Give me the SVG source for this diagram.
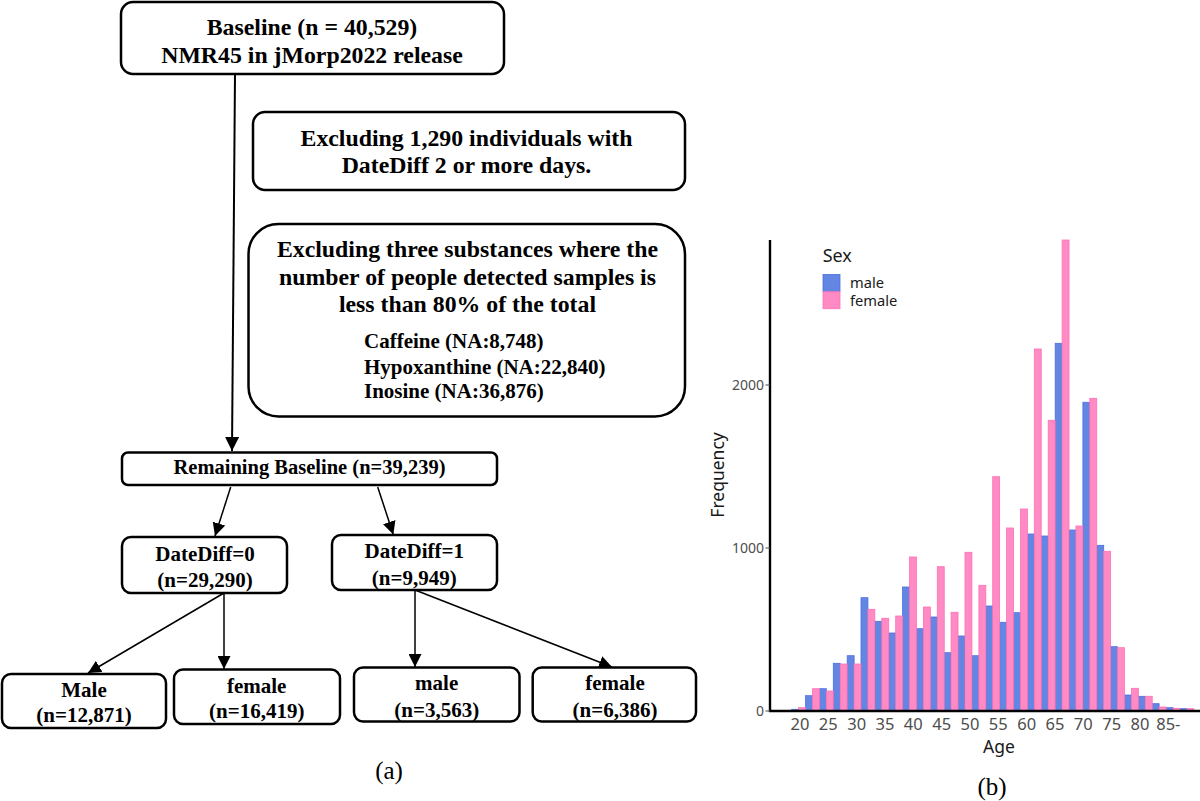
<svg xmlns="http://www.w3.org/2000/svg" width="1200" height="801" viewBox="0 0 1200 801">
<style>
.box{fill:#fff;stroke:#000;stroke-width:2.5}
.t{font-family:"Liberation Serif","Times New Roman",serif;font-weight:bold;fill:#000;text-anchor:middle}
.big{font-size:23.8px}
.mid{font-size:21px}
.sub{font-size:21px;text-anchor:start}
.cap{font-family:"Liberation Serif","Times New Roman",serif;font-size:25px;fill:#000;text-anchor:middle}
.conn{stroke:#000;stroke-width:1.5;fill:none}
.mb{fill:#6486E3;stroke:#4A6EE0;stroke-width:0.8}
.fb{fill:#FF8AC4;stroke:#FF70B6;stroke-width:0.8}
.tick{font-family:"Noto Sans","Open Sans",sans-serif;fill:#4D4D4D}
.ax{font-family:"Noto Sans","Open Sans",sans-serif;fill:#1A1A1A}
</style>
<defs>
<marker id="ah" viewBox="0 0 10 10" refX="10" refY="5" markerUnits="userSpaceOnUse" markerWidth="13" markerHeight="13" orient="auto"><path d="M0,0 L10,5 L0,10 z" fill="#000"/></marker>
<marker id="ahb" viewBox="0 0 10 10" refX="10" refY="5" markerUnits="userSpaceOnUse" markerWidth="15" markerHeight="14" orient="auto"><path d="M0,0 L10,5 L0,10 z" fill="#000"/></marker>
</defs>
<rect width="1200" height="801" fill="#fff"/>

<g id="connectors">
<line class="conn" x1="235" y1="74" x2="232" y2="451" style="stroke-width:2" marker-end="url(#ahb)"/>
<line class="conn" x1="230.7" y1="487" x2="215" y2="536" marker-end="url(#ah)"/>
<line class="conn" x1="377.7" y1="487" x2="393.3" y2="534.5" marker-end="url(#ah)"/>
<line class="conn" x1="224" y1="593" x2="88" y2="673" marker-end="url(#ah)"/>
<line class="conn" x1="224" y1="593" x2="224" y2="669" marker-end="url(#ah)"/>
<line class="conn" x1="415" y1="590" x2="415" y2="667" marker-end="url(#ah)"/>
<line class="conn" x1="415" y1="590" x2="612" y2="667" marker-end="url(#ah)"/>
</g>

<g id="baseline">
<rect class="box" x="121" y="2" width="383" height="72" rx="12"/>
<text class="t big" x="312" y="35">Baseline (n = 40,529)</text>
<text class="t big" x="312" y="63">NMR45 in jMorp2022 release</text>
</g>

<g id="exclude1">
<rect class="box" x="253" y="112" width="432" height="78" rx="12"/>
<text class="t big" x="466.5" y="146">Excluding 1,290 individuals with</text>
<text class="t big" x="466.5" y="173">DateDiff 2 or more days.</text>
</g>

<g id="exclude2">
<rect class="box" x="248.5" y="224" width="436.5" height="192.5" rx="30"/>
<text class="t big" x="467.5" y="257.3">Excluding three substances where the</text>
<text class="t big" x="467.5" y="285">number of people detected samples is</text>
<text class="t big" x="467.5" y="311.7">less than 80% of the total</text>
<text class="t sub" x="364" y="348.3">Caffeine (NA:8,748)</text>
<text class="t sub" x="364" y="374">Hypoxanthine (NA:22,840)</text>
<text class="t sub" x="364" y="398.3">Inosine (NA:36,876)</text>
</g>

<g id="remaining">
<rect class="box" x="122" y="452.5" width="375" height="32.5" rx="6"/>
<text class="t" style="font-size:20.5px" x="309.5" y="474">Remaining Baseline (n=39,239)</text>
</g>

<g id="datediff0">
<rect class="box" x="122" y="537" width="165" height="56" rx="9"/>
<text class="t mid" x="205" y="560.7">DateDiff=0</text>
<text class="t mid" x="205" y="586.7">(n=29,290)</text>
</g>

<g id="datediff1">
<rect class="box" x="332" y="535" width="165" height="55" rx="9"/>
<text class="t mid" x="414.3" y="558.3">DateDiff=1</text>
<text class="t mid" x="414.3" y="585">(n=9,949)</text>
</g>

<g id="male0">
<rect class="box" x="2" y="674" width="164" height="54" rx="9"/>
<text class="t mid" x="84" y="696.7">Male</text>
<text class="t mid" x="84" y="721.7">(n=12,871)</text>
</g>

<g id="female0">
<rect class="box" x="174" y="669.5" width="166" height="54.5" rx="9"/>
<text class="t mid" x="256.7" y="692.7">female</text>
<text class="t mid" x="256.7" y="718.3">(n=16,419)</text>
</g>

<g id="male1">
<rect class="box" x="354" y="667.5" width="165.5" height="54" rx="9"/>
<text class="t mid" x="436.7" y="690">male</text>
<text class="t mid" x="436.7" y="716.7">(n=3,563)</text>
</g>

<g id="female1">
<rect class="box" x="532.7" y="667.5" width="163.3" height="54" rx="9"/>
<text class="t mid" x="615" y="690">female</text>
<text class="t mid" x="615" y="716.7">(n=6,386)</text>
</g>

<text class="cap" x="389" y="779">(a)</text>

<g id="histogram">
<g id="bars-male">
<rect class="mb" x="791.7" y="709.3" width="6.93" height="1.7"/>
<rect class="mb" x="805.6" y="695.7" width="6.93" height="15.3"/>
<rect class="mb" x="819.4" y="688.7" width="6.93" height="22.3"/>
<rect class="mb" x="833.3" y="663.3" width="6.93" height="47.7"/>
<rect class="mb" x="847.2" y="655.7" width="6.93" height="55.3"/>
<rect class="mb" x="861.0" y="597.7" width="6.93" height="113.3"/>
<rect class="mb" x="874.9" y="621.3" width="6.93" height="89.7"/>
<rect class="mb" x="888.8" y="633" width="6.93" height="78"/>
<rect class="mb" x="902.6" y="587" width="6.93" height="124"/>
<rect class="mb" x="916.5" y="628.7" width="6.93" height="82.3"/>
<rect class="mb" x="930.4" y="617" width="6.93" height="94"/>
<rect class="mb" x="944.2" y="652.7" width="6.93" height="58.3"/>
<rect class="mb" x="958.1" y="636" width="6.93" height="75"/>
<rect class="mb" x="972.0" y="655.7" width="6.93" height="55.3"/>
<rect class="mb" x="985.8" y="606" width="6.93" height="105"/>
<rect class="mb" x="999.7" y="622.3" width="6.93" height="88.7"/>
<rect class="mb" x="1013.6" y="612.7" width="6.93" height="98.3"/>
<rect class="mb" x="1027.4" y="534" width="6.93" height="177"/>
<rect class="mb" x="1041.3" y="536" width="6.93" height="175"/>
<rect class="mb" x="1055.2" y="343.3" width="6.93" height="367.7"/>
<rect class="mb" x="1069.0" y="530" width="6.93" height="181"/>
<rect class="mb" x="1082.9" y="402.3" width="6.93" height="308.7"/>
<rect class="mb" x="1096.8" y="545.3" width="6.93" height="165.7"/>
<rect class="mb" x="1110.6" y="646.7" width="6.93" height="64.3"/>
<rect class="mb" x="1124.5" y="695" width="6.93" height="16"/>
<rect class="mb" x="1138.4" y="696.3" width="6.93" height="14.7"/>
<rect class="mb" x="1152.2" y="703.7" width="6.93" height="7.3"/>
<rect class="mb" x="1166.1" y="707.7" width="6.93" height="3.3"/>
<rect class="mb" x="1180.0" y="708.7" width="6.93" height="2.3"/>
</g>
<g id="bars-female">
<rect class="fb" x="798.6" y="707.7" width="6.93" height="3.3"/>
<rect class="fb" x="812.5" y="688.7" width="6.93" height="22.3"/>
<rect class="fb" x="826.3" y="691" width="6.93" height="20"/>
<rect class="fb" x="840.2" y="664" width="6.93" height="47"/>
<rect class="fb" x="854.1" y="664" width="6.93" height="47"/>
<rect class="fb" x="867.9" y="609.3" width="6.93" height="101.7"/>
<rect class="fb" x="881.8" y="618.3" width="6.93" height="92.7"/>
<rect class="fb" x="895.7" y="616" width="6.93" height="95"/>
<rect class="fb" x="909.5" y="557" width="6.93" height="154"/>
<rect class="fb" x="923.4" y="607" width="6.93" height="104"/>
<rect class="fb" x="937.3" y="566.7" width="6.93" height="144.3"/>
<rect class="fb" x="951.1" y="612.3" width="6.93" height="98.7"/>
<rect class="fb" x="965.0" y="552.3" width="6.93" height="158.7"/>
<rect class="fb" x="978.9" y="585.3" width="6.93" height="125.7"/>
<rect class="fb" x="992.7" y="476.7" width="6.93" height="234.3"/>
<rect class="fb" x="1006.6" y="528" width="6.93" height="183"/>
<rect class="fb" x="1020.5" y="509" width="6.93" height="202"/>
<rect class="fb" x="1034.3" y="349" width="6.93" height="362"/>
<rect class="fb" x="1048.2" y="420.3" width="6.93" height="290.7"/>
<rect class="fb" x="1062.1" y="240" width="6.93" height="471"/>
<rect class="fb" x="1075.9" y="526" width="6.93" height="185"/>
<rect class="fb" x="1089.8" y="398.3" width="6.93" height="312.7"/>
<rect class="fb" x="1103.7" y="551.3" width="6.93" height="159.7"/>
<rect class="fb" x="1117.5" y="647.7" width="6.93" height="63.3"/>
<rect class="fb" x="1131.4" y="688.3" width="6.93" height="22.7"/>
<rect class="fb" x="1145.3" y="696.3" width="6.93" height="14.7"/>
<rect class="fb" x="1159.1" y="707" width="6.93" height="4"/>
<rect class="fb" x="1173.0" y="708.3" width="6.93" height="2.7"/>
<rect class="fb" x="1186.9" y="708.7" width="6.93" height="2.3"/>
</g>
<g id="axes">
<line x1="770" y1="240" x2="770" y2="712" stroke="#000" stroke-width="2.4"/>
<line x1="769" y1="711" x2="1200" y2="711" stroke="#000" stroke-width="2.4"/>
<line x1="765.5" y1="385" x2="770" y2="385" stroke="#4D4D4D" stroke-width="1"/>
<line x1="765.5" y1="548" x2="770" y2="548" stroke="#4D4D4D" stroke-width="1"/>
<line x1="765.5" y1="711" x2="770" y2="711" stroke="#4D4D4D" stroke-width="1"/>
<text class="tick" style="font-size:14px" x="764" y="390" text-anchor="end">2000</text>
<text class="tick" style="font-size:14px" x="764" y="553" text-anchor="end">1000</text>
<text class="tick" style="font-size:14px" x="764" y="716" text-anchor="end">0</text>
<g class="tick" style="font-size:16.5px" text-anchor="middle">
<text x="800" y="730">20</text>
<text x="828.3" y="730">25</text>
<text x="856.7" y="730">30</text>
<text x="885" y="730">35</text>
<text x="913.3" y="730">40</text>
<text x="941.7" y="730">45</text>
<text x="970" y="730">50</text>
<text x="998.3" y="730">55</text>
<text x="1026.7" y="730">60</text>
<text x="1055" y="730">65</text>
<text x="1083.3" y="730">70</text>
<text x="1111.7" y="730">75</text>
<text x="1140" y="730">80</text>
<text x="1168.3" y="730">85-</text>
</g>
<text class="ax" style="font-size:17.5px" x="999" y="753" text-anchor="middle">Age</text>
<text class="ax" style="font-size:17.5px" transform="translate(724,475) rotate(-90)" text-anchor="middle">Frequency</text>
</g>
<g id="legend">
<text class="ax" style="font-size:18px" x="822.7" y="261.7">Sex</text>
<rect x="823" y="274.5" width="17" height="17" fill="#6486E3" stroke="#4A6EE0" stroke-width="0.8"/>
<rect x="823" y="291.7" width="17" height="17" fill="#FF8AC4" stroke="#FF70B6" stroke-width="0.8"/>
<text class="ax" style="font-size:14.7px" x="850" y="287.7">male</text>
<text class="ax" style="font-size:14.7px" x="850" y="305.5">female</text>
</g>
</g>
<text class="cap" x="992" y="795">(b)</text>
</svg>
